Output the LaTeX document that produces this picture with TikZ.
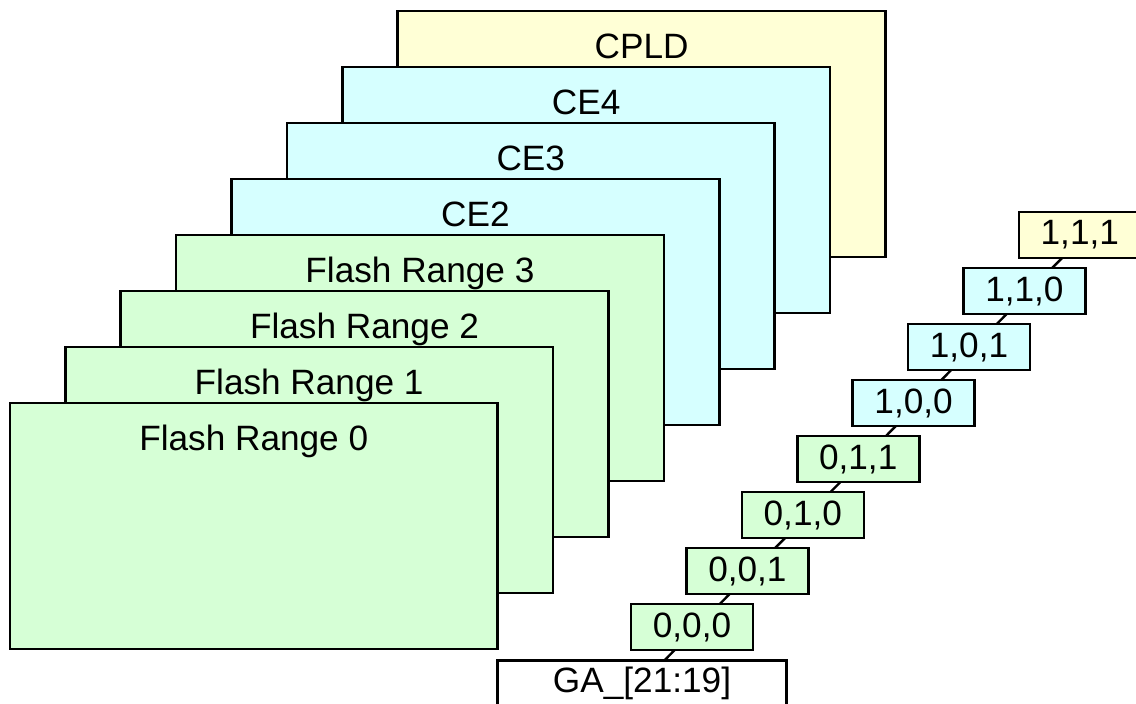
\documentclass[tikz,border=0pt]{standalone}
\usepackage{fontspec}
\setmainfont{Liberation Sans}
\usetikzlibrary{backgrounds,calc}

\definecolor{flashgreen}{RGB}{214,255,214}
\definecolor{cecyan}{RGB}{214,255,255}
\definecolor{cpldyellow}{RGB}{255,255,214}
\newcommand{\diagfont}{\fontsize{35.2}{40}\selectfont}

\tikzset{
  plane/.style={draw=black, line width=2.6pt, minimum width=487.7pt,
    minimum height=246pt, anchor=north west, inner sep=0pt, outer sep=0pt},
  planetext/.style={anchor=base, font=\diagfont, inner sep=0pt},
  codebox/.style={draw=black, line width=2.6pt, minimum width=122pt,
    minimum height=46pt, anchor=north west, inner sep=0pt, outer sep=0pt,
    font=\diagfont},
  wire/.style={draw=black, line width=2.4pt},
}

\begin{document}
\begin{tikzpicture}[x=1pt, y=-1pt]
\useasboundingbox (0,0) rectangle (1136,704);

% stacked address planes, drawn back to front
\node[plane, fill=cpldyellow] (cpld) at (397.7,11) {};
\node[planetext] (tcpld) at ($(cpld.north)+(0,47.2)$) {CPLD};
\node[plane, fill=cecyan] (ce4) at (342.3,67) {};
\node[planetext] (tce4) at ($(ce4.north)+(0,47.2)$) {CE4};
\node[plane, fill=cecyan] (ce3) at (286.9,123) {};
\node[planetext] (tce3) at ($(ce3.north)+(0,47.2)$) {CE3};
\node[plane, fill=cecyan] (ce2) at (231.5,179) {};
\node[planetext] (tce2) at ($(ce2.north)+(0,47.2)$) {CE2};
\node[plane, fill=flashgreen] (fr3) at (176.1,235) {};
\node[planetext] (tfr3) at ($(fr3.north)+(0,47.2)$) {Flash Range 3};
\node[plane, fill=flashgreen] (fr2) at (120.7,291) {};
\node[planetext] (tfr2) at ($(fr2.north)+(0,47.2)$) {Flash Range 2};
\node[plane, fill=flashgreen] (fr1) at (65.3,347) {};
\node[planetext] (tfr1) at ($(fr1.north)+(0,47.2)$) {Flash Range 1};
\node[plane, fill=flashgreen] (fr0) at (9.9,403) {};
\node[planetext] (tfr0) at ($(fr0.north)+(0,47.2)$) {Flash Range 0};

% address decode values
\node[codebox, fill=white, minimum width=289pt] (ga) at (497.5,660.5) {GA\_[21:19]};
\node[codebox, fill=flashgreen] (b0) at (631,604) {0,0,0};
\node[codebox, fill=flashgreen] (b1) at (686.4,548) {0,0,1};
\node[codebox, fill=flashgreen] (b2) at (741.8,492) {0,1,0};
\node[codebox, fill=flashgreen] (b3) at (797.2,436) {0,1,1};
\node[codebox, fill=cecyan] (b4) at (852.6,380) {1,0,0};
\node[codebox, fill=cecyan] (b5) at (908,324) {1,0,1};
\node[codebox, fill=cecyan] (b6) at (963.4,268) {1,1,0};
\node[codebox, fill=cpldyellow] (b7) at (1018.8,212) {1,1,1};

% chain linking the values, behind the boxes
\begin{scope}[on background layer]
  \draw[wire] (ga.center) -- ([xshift=5pt]b0.center);
  \draw[wire] ([xshift=5pt]b0.center) -- ([xshift=5pt]b1.center);
  \draw[wire] ([xshift=5pt]b1.center) -- ([xshift=5pt]b2.center);
  \draw[wire] ([xshift=5pt]b2.center) -- ([xshift=5pt]b3.center);
  \draw[wire] ([xshift=5pt]b3.center) -- ([xshift=5pt]b4.center);
  \draw[wire] ([xshift=5pt]b4.center) -- ([xshift=5pt]b5.center);
  \draw[wire] ([xshift=5pt]b5.center) -- ([xshift=5pt]b6.center);
  \draw[wire] ([xshift=5pt]b6.center) -- ([xshift=5pt]b7.center);
\end{scope}
\end{tikzpicture}
\end{document}
